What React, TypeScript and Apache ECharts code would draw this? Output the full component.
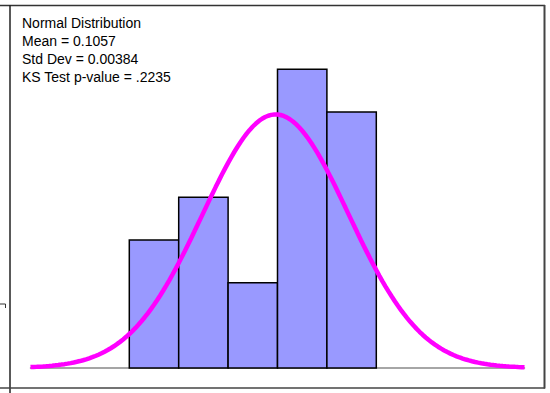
import React, { useEffect, useRef } from "react";
import * as echarts from "echarts";

// Histogram bins (edges) and counts per bin
const BIN_EDGES = [0.098, 0.1006, 0.1032, 0.1058, 0.1084, 0.111];
const COUNTS = [3, 4, 2, 7, 6];

// Fitted normal distribution parameters (as printed in the legend)
const MEAN = 0.1057;
const STD_DEV = 0.00384;
const KS_P = ".2235";

// Range over which the fitted curve is drawn
const CURVE_RANGE = [0.0928, 0.1188];

const INFO_LINES = [
  "Normal Distribution",
  `Mean = ${MEAN}`,
  `Std Dev = ${STD_DEV.toFixed(5)}`,
  `KS Test p-value = ${KS_P}`,
];

function fittedCurve(): number[][] {
  const n = COUNTS.reduce((a, b) => a + b, 0);
  const binWidth = BIN_EDGES[1] - BIN_EDGES[0];
  const scale = n * binWidth / (STD_DEV * Math.sqrt(2 * Math.PI));
  const steps = 160;
  const pts: number[][] = [];
  for (let i = 0; i <= steps; i++) {
    const x = CURVE_RANGE[0] + (CURVE_RANGE[1] - CURVE_RANGE[0]) * (i / steps);
    const z = (x - MEAN) / STD_DEV;
    pts.push([x, scale * Math.exp(-0.5 * z * z)]);
  }
  return pts;
}

export default function App() {
  const ref = useRef<HTMLDivElement>(null);

  useEffect(() => {
    document.body.style.margin = "0";
    if (!ref.current) return;
    const chart = echarts.init(ref.current, undefined, { renderer: "svg" });
    const font = '"Liberation Sans", Arial, Helvetica, sans-serif';
    const frame = "#333";

    chart.setOption({
      animation: false,
      grid: { left: 30.5, width: 494, top: 69.3, bottom: 25 },
      xAxis: {
        type: "value",
        min: CURVE_RANGE[0],
        max: CURVE_RANGE[1],
        axisLine: { show: true, lineStyle: { color: "#888", width: 1.5 } },
        axisTick: { show: false },
        axisLabel: { show: false },
        splitLine: { show: false },
      },
      yAxis: {
        type: "value",
        min: 0,
        max: 7,
        show: false,
        splitLine: { show: false },
      },
      series: [
        {
          type: "custom",
          z: 2,
          encode: { x: [0, 1], y: 2 },
          data: COUNTS.map((c, i) => [BIN_EDGES[i], BIN_EDGES[i + 1], c]),
          renderItem: (_params: any, api: any) => {
            const p0 = api.coord([api.value(0), api.value(2)]);
            const p1 = api.coord([api.value(1), 0]);
            return {
              type: "rect",
              shape: { x: p0[0], y: p0[1], width: p1[0] - p0[0], height: p1[1] - p0[1] },
              style: { fill: "#9999ff", stroke: "#000", lineWidth: 1.5 },
            };
          },
        },
        {
          type: "line",
          z: 3,
          data: fittedCurve(),
          showSymbol: false,
          smooth: false,
          lineStyle: { color: "#ff00ff", width: 4.5, cap: "butt" },
        },
      ],
      graphic: [
        {
          type: "text",
          left: 22,
          top: 14,
          style: {
            text: INFO_LINES.join("\n"),
            font: `14px ${font}`,
            lineHeight: 18,
            fill: "#000",
          },
        },
        { type: "line", shape: { x1: 0, y1: 5.5, x2: 545, y2: 5.5 }, style: { stroke: frame, lineWidth: 1.5 } },
        { type: "line", shape: { x1: 10, y1: 5, x2: 10, y2: 393 }, style: { stroke: "#222", lineWidth: 1.5 } },
        { type: "line", shape: { x1: 544.5, y1: 5, x2: 544.5, y2: 388.5 }, style: { stroke: "#444", lineWidth: 2 } },
        { type: "line", shape: { x1: 0, y1: 388, x2: 545, y2: 388 }, style: { stroke: "#444", lineWidth: 1.5 } },
        {
          type: "polyline",
          shape: { points: [[0, 304], [5.5, 304], [5.5, 308]] },
          style: { stroke: frame, lineWidth: 1, fill: "none" },
        },
      ],
    });

    return () => chart.dispose();
  }, []);

  return <div ref={ref} style={{ width: 550, height: 393 }} />;
}
